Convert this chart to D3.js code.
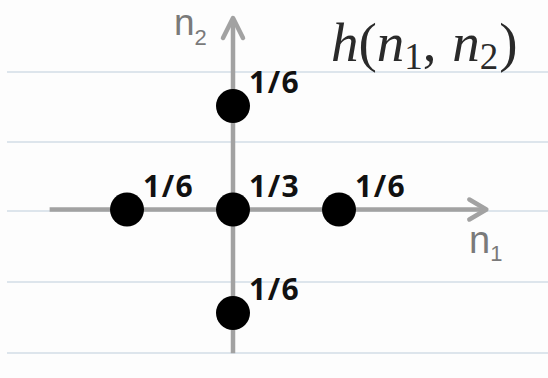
<!DOCTYPE html>
<html>
<head>
<meta charset="utf-8">
<script src="https://cdn.jsdelivr.net/npm/d3@7"></script>
<style>
  html, body { margin: 0; padding: 0; background: #fdfdfd; }
  svg { display: block; }
</style>
</head>
<body>
<svg id="chart" width="548" height="378"></svg>
<script>
// Impulse response h(n1, n2): sample positions and their weights
const n1Values = [0, -1, 0, 1, 0];
const n2Values = [1, 0, 0, 0, -1];
const numerators = [1, 1, 1, 1, 1];
const denominators = [6, 6, 3, 6, 6];

const W = 548, H = 378;
const svg = d3.select("#chart");

// Notebook-style ruled background
const ruleY = [72, 142, 211, 282, 353];
svg.append("rect").attr("width", W).attr("height", H).attr("fill", "#fdfdfd");
svg.selectAll("line.rule").data(ruleY).join("line")
  .attr("class", "rule")
  .attr("x1", 7).attr("x2", W)
  .attr("y1", d => d).attr("y2", d => d)
  .attr("stroke", "#dde5ec").attr("stroke-width", 2);

// Scales from sample index to pixels
const x = d3.scaleLinear().domain([-1, 1]).range([127, 339]);
const y = d3.scaleLinear().domain([-1, 1]).range([313, 106]);

const axisColor = "#a2a2a2";
const g = svg.append("g");

// n1 axis (horizontal) with open arrowhead
const xStart = x(-1.73), xEnd = x(2.39);
g.append("line")
  .attr("x1", xStart).attr("x2", xEnd - 2)
  .attr("y1", y(0)).attr("y2", y(0))
  .attr("stroke", axisColor).attr("stroke-width", 4.5);
g.append("path")
  .attr("d", `M${xEnd - 17},${y(0) - 10} L${xEnd},${y(0)} L${xEnd - 17},${y(0) + 10}`)
  .attr("fill", "none").attr("stroke", axisColor).attr("stroke-width", 4.5)
  .attr("stroke-linecap", "round").attr("stroke-linejoin", "round");

// n2 axis (vertical) with open arrowhead
const yBottom = y(-1.39), yTop = y(1.85);
g.append("line")
  .attr("x1", x(0)).attr("x2", x(0))
  .attr("y1", yBottom).attr("y2", yTop + 2)
  .attr("stroke", axisColor).attr("stroke-width", 4.5);
g.append("path")
  .attr("d", `M${x(0) - 10},${yTop + 20} L${x(0)},${yTop} L${x(0) + 10},${yTop + 20}`)
  .attr("fill", "none").attr("stroke", axisColor).attr("stroke-width", 4.5)
  .attr("stroke-linecap", "round").attr("stroke-linejoin", "round");

// Axis labels
const axisLabelFont = "'Liberation Sans', Arial, sans-serif";
const lab1 = svg.append("text")
  .attr("x", 469).attr("y", 253)
  .attr("font-family", axisLabelFont).attr("font-size", 38)
  .attr("fill", "#7a7a7a");
lab1.append("tspan").text("n");
lab1.append("tspan").attr("font-size", 22).attr("dy", 8).text("1");

const lab2 = svg.append("text")
  .attr("x", 174).attr("y", 35)
  .attr("font-family", axisLabelFont).attr("font-size", 37)
  .attr("fill", "#7a7a7a");
lab2.append("tspan").text("n");
lab2.append("tspan").attr("font-size", 22).attr("dy", 10).text("2");

// Title h(n1, n2) in math style
const title = svg.append("text")
  .attr("x", 331).attr("y", 61)
  .attr("font-family", "'Liberation Serif', 'DejaVu Serif', serif")
  .attr("font-size", 55)
  .attr("fill", "#2a2a2a");
title.append("tspan").attr("font-style", "italic").text("h");
title.append("tspan").text("(");
title.append("tspan").attr("font-style", "italic").text("n");
title.append("tspan").attr("font-size", 37).attr("dy", 8).text("1");
title.append("tspan").attr("dy", -8).text(", ");
title.append("tspan").attr("font-style", "italic").attr("dx", 2).text("n");
title.append("tspan").attr("font-size", 37).attr("dy", 8).text("2");
title.append("tspan").attr("dy", -8).attr("dx", 1).text(")");

// Samples
const samples = n1Values.map((n1, i) => ({
  n1, n2: n2Values[i], num: numerators[i], den: denominators[i]
}));

svg.selectAll("circle.sample").data(samples).join("circle")
  .attr("class", "sample")
  .attr("cx", d => x(d.n1)).attr("cy", d => y(d.n2))
  .attr("r", 17)
  .attr("fill", "#000");

svg.selectAll("text.val").data(samples).join("text")
  .attr("class", "val")
  .attr("x", d => x(d.n1) + 16)
  .attr("y", d => y(d.n2) - 13)
  .attr("font-family", "'Open Sans', sans-serif")
  .attr("font-weight", 700)
  .attr("font-size", 30)
  .attr("letter-spacing", 1.5)
  .attr("fill", "#111")
  .text(d => `${d.num}/${d.den}`);
</script>
</body>
</html>
